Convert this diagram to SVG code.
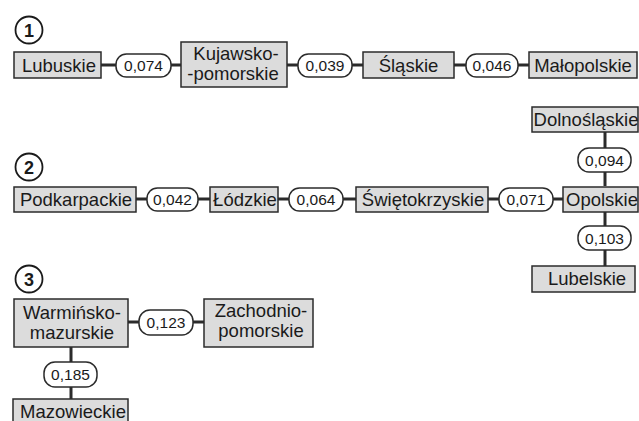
<svg xmlns="http://www.w3.org/2000/svg" width="639" height="421" viewBox="0 0 639 421">
<style>
.box{fill:#dcdcdc;stroke:#2b2b2b;stroke-width:1.5}
.pill{fill:#fff;stroke:#2b2b2b;stroke-width:1.5}
.num{fill:#fff;stroke:#1a1a1a;stroke-width:1.8}
.t{font-family:"Liberation Sans",Arial,sans-serif;font-size:18.5px;fill:#1a1a1a;text-anchor:middle}
.p{font-family:"Liberation Sans",Arial,sans-serif;font-size:15.5px;fill:#1a1a1a;text-anchor:middle}
.n{font-family:"Liberation Sans",Arial,sans-serif;font-size:18px;font-weight:bold;fill:#1a1a1a;text-anchor:middle}
.c{stroke:#2b2b2b;stroke-width:3;fill:none}
</style>
<rect width="639" height="421" fill="#fff"/>
<g id="connectors">
<line class="c" x1="101" y1="65" x2="181" y2="65"/>
<line class="c" x1="287" y1="65" x2="363" y2="65"/>
<line class="c" x1="454" y1="65" x2="529" y2="65"/>
<line class="c" x1="136" y1="199" x2="210" y2="199"/>
<line class="c" x1="278" y1="199" x2="356" y2="199"/>
<line class="c" x1="488" y1="199" x2="563" y2="199"/>
<line class="c" x1="605" y1="132" x2="605" y2="186"/>
<line class="c" x1="605" y1="212" x2="605" y2="266"/>
<line class="c" x1="128" y1="322" x2="204" y2="322"/>
<line class="c" x1="71" y1="347" x2="71" y2="399"/>
</g>
<g id="label1"><circle class="num" cx="29" cy="30" r="13.5"/><text class="n" x="29" y="36.5">1</text></g>
<g id="label2"><circle class="num" cx="29" cy="167" r="13.5"/><text class="n" x="29" y="173.5">2</text></g>
<g id="label3"><circle class="num" cx="29" cy="279" r="13.5"/><text class="n" x="29" y="285.5">3</text></g>
<g id="lubuskie"><rect class="box" x="14" y="52" width="87" height="26"/><text class="t" x="59" y="71.5">Lubuskie</text></g>
<g id="e074"><rect class="pill" x="116" y="54" width="55" height="23" rx="10.5"/><text class="p" x="143.5" y="71">0,074</text></g>
<g id="kujawsko"><rect class="box" x="181" y="42" width="106" height="45"/><text class="t" x="236" y="60">Kujawsko-</text><text class="t" x="233" y="79.5">-pomorskie</text></g>
<g id="e039"><rect class="pill" x="298" y="54" width="54" height="23" rx="10.5"/><text class="p" x="325" y="71">0,039</text></g>
<g id="slaskie"><rect class="box" x="363" y="52" width="91" height="26"/><text class="t" x="408.5" y="71.5">Śląskie</text></g>
<g id="e046"><rect class="pill" x="466" y="54" width="52" height="23" rx="10.5"/><text class="p" x="492" y="71">0,046</text></g>
<g id="malopolskie"><rect class="box" x="529" y="52" width="108" height="26"/><text class="t" x="583" y="71.5">Małopolskie</text></g>
<g id="podkarpackie"><rect class="box" x="14" y="187" width="122" height="25"/><text class="t" x="76" y="206">Podkarpackie</text></g>
<g id="e042"><rect class="pill" x="147" y="188" width="51" height="23" rx="10.5"/><text class="p" x="172.5" y="205">0,042</text></g>
<g id="lodzkie"><rect class="box" x="210" y="187" width="68" height="25"/><text class="t" x="245" y="206">Łódzkie</text></g>
<g id="e064"><rect class="pill" x="289" y="188" width="54" height="23" rx="10.5"/><text class="p" x="316" y="205">0,064</text></g>
<g id="swietokrzyskie"><rect class="box" x="356" y="187" width="132" height="25"/><text class="t" x="423" y="206">Świętokrzyskie</text></g>
<g id="e071"><rect class="pill" x="499" y="188" width="54" height="23" rx="10.5"/><text class="p" x="526" y="205">0,071</text></g>
<g id="opolskie"><rect class="box" x="563" y="187" width="75" height="25"/><text class="t" x="602" y="206">Opolskie</text></g>
<g id="dolnoslaskie"><rect class="box" x="532" y="107" width="106" height="25"/><text class="t" x="586" y="126">Dolnośląskie</text></g>
<g id="e094"><rect class="pill" x="578" y="148" width="53" height="24" rx="11"/><text class="p" x="604.5" y="165.5">0,094</text></g>
<g id="e103"><rect class="pill" x="578" y="226" width="53" height="24" rx="11"/><text class="p" x="604.5" y="243.5">0,103</text></g>
<g id="lubelskie"><rect class="box" x="532" y="266" width="103" height="26"/><text class="t" x="587" y="285">Lubelskie</text></g>
<g id="warminsko"><rect class="box" x="14" y="299" width="114" height="48"/><text class="t" x="72" y="319">Warmińsko-</text><text class="t" x="72" y="338.5">mazurskie</text></g>
<g id="e123"><rect class="pill" x="139" y="310" width="54" height="25" rx="11"/><text class="p" x="166" y="328">0,123</text></g>
<g id="zachodnio"><rect class="box" x="204" y="299" width="109" height="48"/><text class="t" x="261" y="317">Zachodnio-</text><text class="t" x="261" y="336.5">pomorskie</text></g>
<g id="e185"><rect class="pill" x="44" y="362" width="53" height="25" rx="11"/><text class="p" x="70.5" y="380">0,185</text></g>
<g id="mazowieckie"><rect class="box" x="13" y="399" width="115" height="30"/><text class="t" x="73" y="418">Mazowieckie</text></g>
</svg>
